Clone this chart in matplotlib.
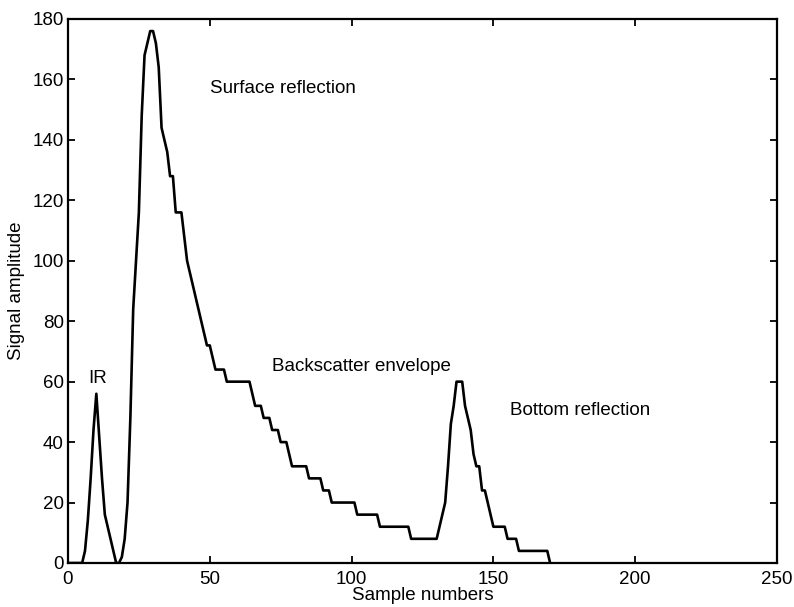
"""Echo sounder return: signal amplitude against sample number."""

import matplotlib

matplotlib.use("Agg")
import matplotlib.pyplot as plt
import numpy as np

# amplitude per sample (sample 0 .. 170)
amplitude = [
    0, 0, 0, 0, 0, 0, 4, 14, 28, 44,            # 0-9
    56, 42, 28, 16, 12, 8, 4, 0, 0, 2,          # 10-19
    8, 20, 48, 84, 100, 116, 148, 168, 172, 176,  # 20-29
    176, 172, 164, 144, 140, 136, 128, 128, 116, 116,  # 30-39
    116, 108, 100, 96, 92, 88, 84, 80, 76, 72,  # 40-49
    72, 68, 64, 64, 64, 64, 60, 60, 60, 60,     # 50-59
    60, 60, 60, 60, 60, 56, 52, 52, 52, 48,     # 60-69
    48, 48, 44, 44, 44, 40, 40, 40, 36, 32,     # 70-79
    32, 32, 32, 32, 32, 28, 28, 28, 28, 28,     # 80-89
    24, 24, 24, 20, 20, 20, 20, 20, 20, 20,     # 90-99
    20, 20, 16, 16, 16, 16, 16, 16, 16, 16,     # 100-109
    12, 12, 12, 12, 12, 12, 12, 12, 12, 12,     # 110-119
    12, 8, 8, 8, 8, 8, 8, 8, 8, 8,              # 120-129
    8, 12, 16, 20, 32, 46, 52, 60, 60, 60,      # 130-139
    52, 48, 44, 36, 32, 32, 24, 24, 20, 16,     # 140-149
    12, 12, 12, 12, 12, 8, 8, 8, 8, 4,          # 150-159
    4, 4, 4, 4, 4, 4, 4, 4, 4, 4,               # 160-169
    0,                                          # 170
]
samples = np.arange(len(amplitude))

annotations = ["IR", "Surface reflection", "Backscatter envelope", "Bottom reflection"]
annotation_x = [7, 50, 72, 156]
annotation_y = [61, 157, 65, 50.5]

x_ticks = [0, 50, 100, 150, 200, 250]
y_ticks = [0, 20, 40, 60, 80, 100, 120, 140, 160, 180]

plt.rcParams["font.family"] = ["Liberation Sans", "DejaVu Sans"]
plt.rcParams["font.size"] = 13.5

fig = plt.figure(figsize=(7.94, 6.07), dpi=100)
ax = fig.add_axes([0.0856, 0.0725, 0.893, 0.8962])

ax.plot(samples, amplitude, color="black", lw=1.9)

for label, tx, ty in zip(annotations, annotation_x, annotation_y):
    ax.text(tx, ty, label, fontsize=13.5, va="center", ha="left")

ax.set_xlim(0, 250)
ax.set_ylim(0, 180)
ax.set_xticks(x_ticks)
ax.set_yticks(y_ticks)
ax.tick_params(direction="in", length=5, width=1.3, top=True, right=True)
ax.tick_params(axis="x", pad=6)
ax.tick_params(axis="y", pad=3)
for spine in ax.spines.values():
    spine.set_linewidth(1.6)

ax.set_xlabel("Sample numbers", labelpad=-1)
ax.set_ylabel("Signal amplitude", labelpad=5)

fig.savefig("out.png", dpi=100)
plt.close(fig)
